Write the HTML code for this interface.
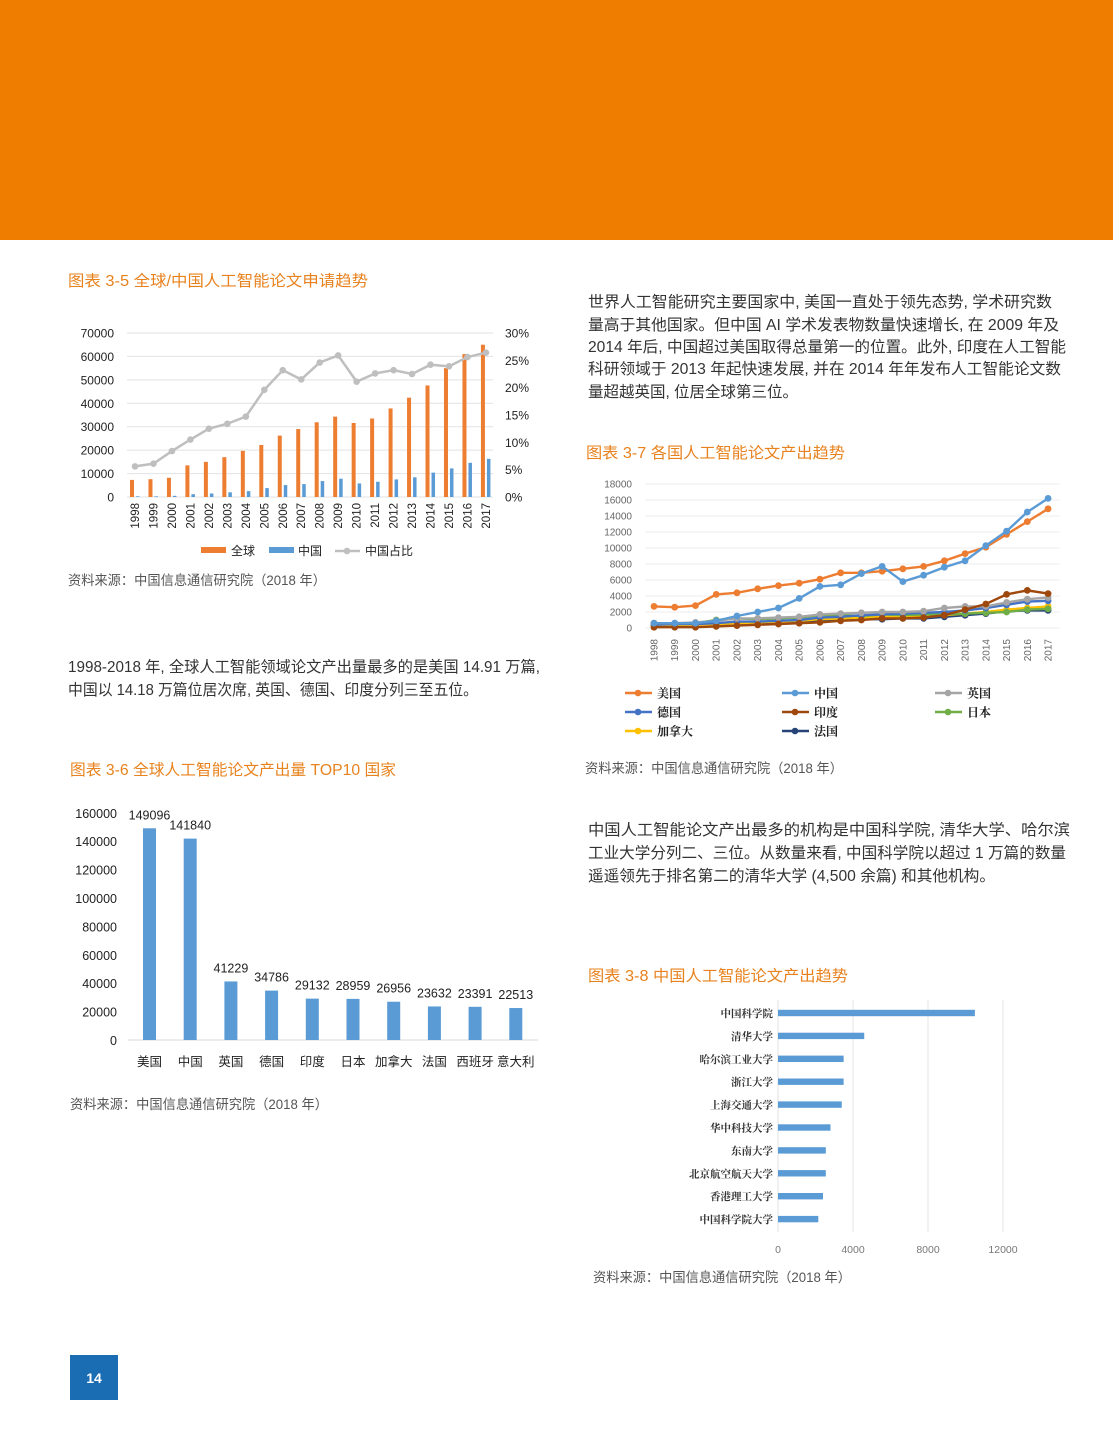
<!DOCTYPE html>
<html><head><meta charset="utf-8">
<style>
html,body{margin:0;padding:0;background:#fff;}
body{width:1113px;height:1440px;position:relative;overflow:hidden;font-family:"Liberation Sans","Noto Sans CJK SC",sans-serif;}
svg{position:absolute;left:0;top:0;}
</style></head>
<body>
<svg id="s" width="1113" height="1440" viewBox="0 0 1113 1440" xmlns="http://www.w3.org/2000/svg" font-family="Liberation Sans, Noto Sans CJK SC, sans-serif">
<rect x="0" y="0" width="1113" height="240" fill="#ee7d00"/>
<rect x="70" y="1355" width="48" height="45" fill="#1b6db3"/>
<text x="94" y="1383" font-size="14" font-weight="bold" fill="#fff" text-anchor="middle">14</text>

<g fill="#e8821e" font-size="15.5" lengthAdjust="spacingAndGlyphs">
<text x="68" y="286" textLength="300" lengthAdjust="spacingAndGlyphs">图表 3-5 全球/中国人工智能论文申请趋势</text>
<text x="70" y="775" textLength="326" lengthAdjust="spacingAndGlyphs">图表 3-6 全球人工智能论文产出量 TOP10 国家</text>
<text x="586" y="458" textLength="259" lengthAdjust="spacingAndGlyphs">图表 3-7 各国人工智能论文产出趋势</text>
<text x="588" y="981" textLength="260" lengthAdjust="spacingAndGlyphs">图表 3-8 中国人工智能论文产出趋势</text>
</g>
<g fill="#555" font-size="13.5">
<text x="68" y="585" textLength="258" lengthAdjust="spacingAndGlyphs">资料来源：中国信息通信研究院（2018 年）</text>
<text x="70" y="1109" textLength="258" lengthAdjust="spacingAndGlyphs">资料来源：中国信息通信研究院（2018 年）</text>
<text x="585" y="773" textLength="258" lengthAdjust="spacingAndGlyphs">资料来源：中国信息通信研究院（2018 年）</text>
<text x="593" y="1282" textLength="258" lengthAdjust="spacingAndGlyphs">资料来源：中国信息通信研究院（2018 年）</text>
</g>
<g fill="#333" font-size="15.5">
<text x="588" y="307" textLength="464" lengthAdjust="spacingAndGlyphs">世界人工智能研究主要国家中, 美国一直处于领先态势, 学术研究数</text>
<text x="588" y="330" textLength="471" lengthAdjust="spacingAndGlyphs">量高于其他国家。但中国 AI 学术发表物数量快速增长, 在 2009 年及</text>
<text x="588" y="352" textLength="478" lengthAdjust="spacingAndGlyphs">2014 年后, 中国超过美国取得总量第一的位置。此外, 印度在人工智能</text>
<text x="588" y="374" textLength="473" lengthAdjust="spacingAndGlyphs">科研领域于 2013 年起快速发展, 并在 2014 年年发布人工智能论文数</text>
<text x="588" y="397" textLength="210" lengthAdjust="spacingAndGlyphs">量超越英国, 位居全球第三位。</text>
<text x="588" y="835" textLength="482" lengthAdjust="spacingAndGlyphs">中国人工智能论文产出最多的机构是中国科学院, 清华大学、哈尔滨</text>
<text x="588" y="858" textLength="478" lengthAdjust="spacingAndGlyphs">工业大学分列二、三位。从数量来看, 中国科学院以超过 1 万篇的数量</text>
<text x="588" y="881" textLength="407" lengthAdjust="spacingAndGlyphs">遥遥领先于排名第二的清华大学 (4,500 余篇) 和其他机构。</text>
<text x="68" y="672" textLength="472" lengthAdjust="spacingAndGlyphs">1998-2018 年, 全球人工智能领域论文产出量最多的是美国 14.91 万篇,</text>
<text x="68" y="695" textLength="410" lengthAdjust="spacingAndGlyphs">中国以 14.18 万篇位居次席, 英国、德国、印度分列三至五位。</text>
</g>
<g id="g"></g>
</svg>
<script>
var NS="http://www.w3.org/2000/svg",G=document.getElementById("g");
function el(t,a,txt){var e=document.createElementNS(NS,t);for(var k in a)e.setAttribute(k,a[k]);if(txt!==undefined)e.textContent=txt;G.appendChild(e);return e;}
// Chart 3-5
for(var k=0;k<=7;k++){var y=497-k*23.43;el("line",{x1:127,x2:493,y1:y,y2:y,stroke:"#e2e2e2","stroke-width":1});
el("text",{x:114,y:y+4.5,"font-size":12,"text-anchor":"end",fill:"#222"},String(k*10000));}
for(var k=0;k<=6;k++){var y=497-k*27.33;el("text",{x:505,y:y+4.5,"font-size":12,fill:"#222"},(k*5)+"%");}
var gl=[7300,7600,8200,13500,15000,17000,19700,22200,26200,29000,31900,34300,31600,33500,37800,42400,47600,55000,61000,65000];
var cn=[300,300,500,1200,1500,2000,2500,3800,5100,5500,6800,7800,5800,6500,7500,8400,10400,12200,14600,16300];
var sh=[5.6,6.1,8.4,10.5,12.5,13.4,14.7,19.6,23.2,21.5,24.6,25.9,21.1,22.6,23.2,22.5,24.2,23.9,25.6,26.4];
var pts=[];
for(var i=0;i<20;i++){var x=135+18.47*i;var h=gl[i]*0.002343,h2=cn[i]*0.002343;
el("rect",{x:x-5,y:497-h,width:4,height:h,fill:"#ed7d31"});
el("rect",{x:x+1,y:497-h2,width:3.5,height:h2,fill:"#5b9bd5"});
pts.push([x,497-sh[i]*5.467]);
el("text",{x:0,y:0,"font-size":11.5,fill:"#222","text-anchor":"end",transform:"translate("+(x+4)+",503) rotate(-90)"},String(1998+i));}
el("polyline",{points:pts.map(function(p){return p.join(",")}).join(" "),fill:"none",stroke:"#bfbfbf","stroke-width":2.5});
pts.forEach(function(p){el("circle",{cx:p[0],cy:p[1],r:3.3,fill:"#bfbfbf"});});
el("rect",{x:201,y:547,width:25,height:6,fill:"#ed7d31"});el("text",{x:231,y:555,"font-size":12,fill:"#222"},"全球");
el("rect",{x:269,y:547,width:25,height:6,fill:"#5b9bd5"});el("text",{x:298,y:555,"font-size":12,fill:"#222"},"中国");
el("line",{x1:335,x2:360,y1:551,y2:551,stroke:"#bfbfbf","stroke-width":2.5});el("circle",{cx:347,cy:551,r:3.3,fill:"#bfbfbf"});
el("text",{x:365,y:555,"font-size":12,fill:"#222"},"中国占比");
// Chart 3-6
for(var k=0;k<=8;k++){var y=1040-k*28.4;el("text",{x:117,y:y+5,"font-size":12.5,"text-anchor":"end",fill:"#222"},String(k*20000));}
el("line",{x1:128,x2:538,y1:1040,y2:1040,stroke:"#d9d9d9","stroke-width":1});
var tv=[149096,141840,41229,34786,29132,28959,26956,23632,23391,22513];
var tn=["美国","中国","英国","德国","印度","日本","加拿大","法国","西班牙","意大利"];
for(var i=0;i<10;i++){var x=143+40.7*i,h=tv[i]/160000*227.2;
el("rect",{x:x,y:1040-h,width:13,height:h,fill:"#5b9bd5"});
el("text",{x:x+6.5,y:1040-h-9,"font-size":12.5,"text-anchor":"middle",fill:"#222"},String(tv[i]));
el("text",{x:x+6.5,y:1066,"font-size":12.5,"text-anchor":"middle",fill:"#222"},tn[i]);}
// Chart 3-7
for(var k=0;k<=9;k++){var y=628-k*16;el("line",{x1:645,x2:1060,y1:y,y2:y,stroke:"#ececec","stroke-width":1});
el("text",{x:632,y:y+3.5,"font-size":10,"text-anchor":"end",fill:"#666"},String(k*2000));}
var xs=[];for(var i=0;i<20;i++){xs.push(654+20.74*i);
el("text",{x:0,y:0,"font-size":10,fill:"#666","text-anchor":"end",transform:"translate("+(654+20.74*i+3.5)+",639) rotate(-90)"},String(1998+i));}
var S=[
["#264478",[400,400,500,500,600,600,700,700,900,1000,1100,1100,1200,1200,1400,1600,1800,2100,2200,2200]],
["#ffc000",[300,300,400,500,600,700,800,900,1100,1200,1300,1400,1400,1500,1600,1800,2000,2300,2500,2700]],
["#70ad47",[500,500,600,1000,1200,1100,1200,1300,1600,1600,1500,1700,1600,1700,1700,1800,1900,2000,2300,2400]],
["#4472c4",[400,500,500,600,800,800,900,1000,1300,1400,1600,1700,1800,1900,2000,2200,2500,2900,3300,3400]],
["#a5a5a5",[600,600,700,900,1200,1200,1300,1400,1700,1800,1900,2000,2000,2100,2500,2700,2700,3200,3600,3800]],
["#9e480e",[100,100,100,200,300,400,500,600,700,900,1000,1200,1200,1300,1600,2300,3000,4200,4700,4300]],
["#ed7d31",[2700,2600,2800,4200,4400,4900,5300,5600,6100,6900,6900,7100,7400,7700,8400,9300,10100,11700,13300,14900]],
["#5b9bd5",[600,600,600,900,1500,2000,2500,3700,5200,5400,6800,7700,5800,6600,7600,8400,10300,12100,14500,16200]]];
S.forEach(function(s){var p=s[1].map(function(v,i){return xs[i]+","+(628-v*0.008)}).join(" ");
el("polyline",{points:p,fill:"none",stroke:s[0],"stroke-width":2.4});
s[1].forEach(function(v,i){el("circle",{cx:xs[i],cy:628-v*0.008,r:3.4,fill:s[0]});});});
var L=[["#ed7d31","美国",625,693],["#5b9bd5","中国",782,693],["#a5a5a5","英国",935,693],["#4472c4","德国",625,712],["#9e480e","印度",782,712],["#70ad47","日本",935,712],["#ffc000","加拿大",625,731],["#264478","法国",782,731]];
L.forEach(function(l){el("line",{x1:l[2],x2:l[2]+27,y1:l[3],y2:l[3],stroke:l[0],"stroke-width":2.5});
el("circle",{cx:l[2]+13,cy:l[3],r:3.3,fill:l[0]});
el("text",{x:l[2]+32,y:l[3]+4.5,"font-size":12,"font-weight":"bold","font-family":"Noto Serif CJK SC, serif",fill:"#222"},l[1]);});
// Chart 3-8
[0,4000,8000,12000].forEach(function(v){var x=778+v*0.01875;
if(v>0)el("line",{x1:x,x2:x,y1:1000,y2:1232,stroke:"#e4e4e4","stroke-width":1});
el("text",{x:x,y:1253,"font-size":10.5,"text-anchor":"middle",fill:"#777"},String(v));});
el("line",{x1:778,x2:778,y1:1000,y2:1232,stroke:"#e0e0e0","stroke-width":1});
var bv=[10500,4600,3500,3500,3400,2800,2550,2550,2400,2150];
var bn=["中国科学院","清华大学","哈尔滨工业大学","浙江大学","上海交通大学","华中科技大学","东南大学","北京航空航天大学","香港理工大学","中国科学院大学"];
for(var i=0;i<10;i++){var y=1013+22.9*i;
el("rect",{x:778,y:y-3.2,width:bv[i]*0.01875,height:6.4,fill:"#5b9bd5"});
el("text",{x:773,y:y+4,"font-size":10.5,"font-weight":"bold","text-anchor":"end","font-family":"Noto Serif CJK SC, serif",fill:"#333"},bn[i]);}
</script>
</body></html>
